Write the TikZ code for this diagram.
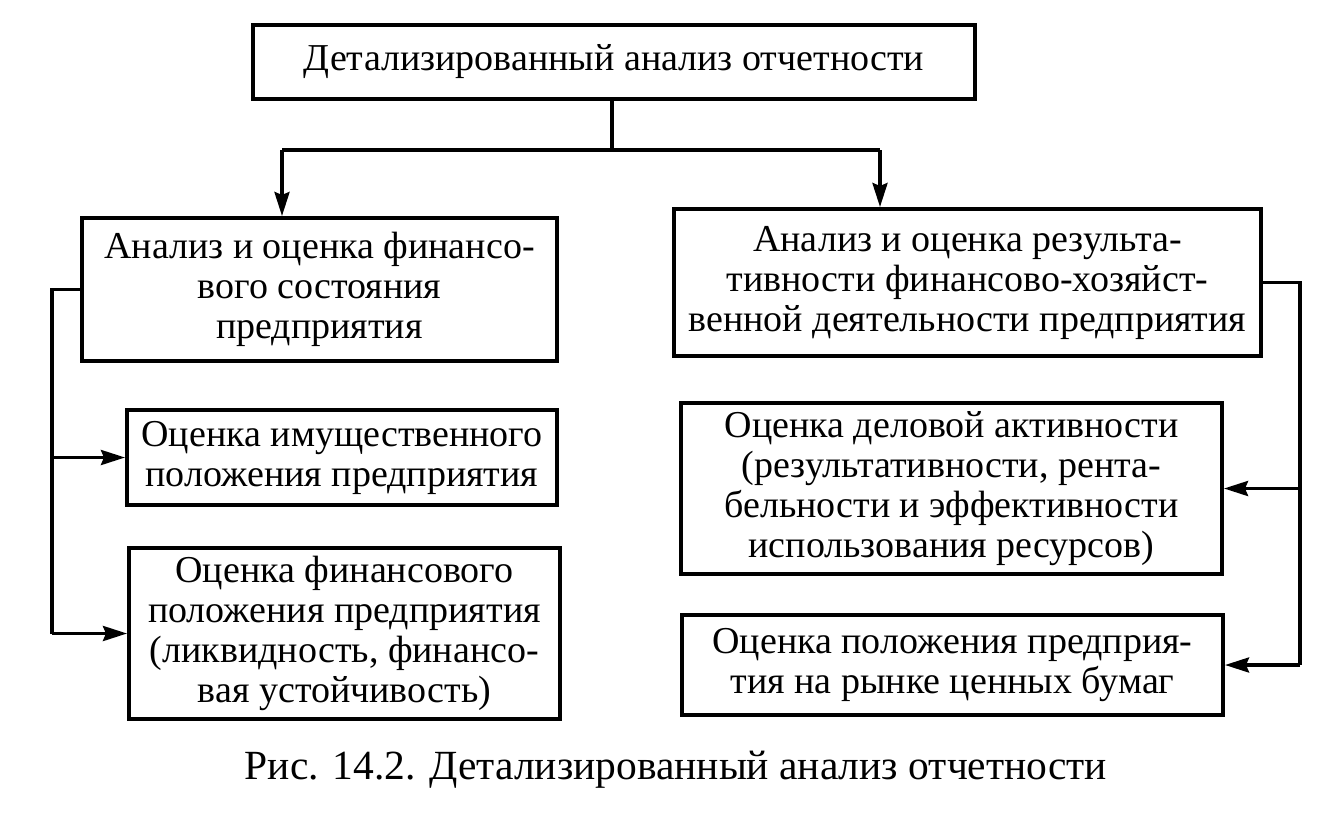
\documentclass[tikz,border=0pt]{standalone}
\usepackage{fontspec}
\setmainfont{Liberation Serif}
\usetikzlibrary{arrows.meta}
\begin{document}
\begin{tikzpicture}[x=1pt,y=-1pt,
  box/.style={draw, line width=4pt, align=center, inner sep=0pt,
    font=\fontsize{38}{40}\selectfont},
  conn/.style={line width=3.5pt},
  arr/.style={line width=3.5pt, -{Stealth[length=24pt,width=15pt,inset=3pt]}}]
\fill[white] (0,0) rectangle (1332,822);
\useasboundingbox (0,0) rectangle (1332,822);
\node[box, minimum width=722pt, minimum height=74pt] (top) at (614,62) {Детализированный анализ отчетности};
\node[box, minimum width=475pt, minimum height=143pt] (L1) at (319.5,289.5) {Анализ и оценка финансо-\\вого состояния\\предприятия};
\node[box, minimum width=587pt, minimum height=147pt] (R1) at (967.5,282.5) {Анализ и оценка результа-\\тивности финансово-хозяйст-\\венной деятельности предприятия};
\node[box, minimum width=430pt, minimum height=95pt] (L2) at (342,457.5) {Оценка имущественного\\положения предприятия};
\node[box, minimum width=431pt, minimum height=171pt] (L3) at (344.5,633.5) {Оценка финансового\\положения предприятия\\(ликвидность, финансо-\\вая устойчивость)};
\node[box, minimum width=541pt, minimum height=171pt] (R2) at (951.5,488.5) {Оценка деловой активности\\(результативности, рента-\\бельности и эффективности\\использования ресурсов)};
\node[box, minimum width=541pt, minimum height=100pt] (R3) at (952.5,665) {Оценка положения предприя-\\тия на рынке ценных бумаг};
\node[font=\fontsize{41.5}{44}\selectfont, inner sep=0pt] (cap) at (676,770) {Рис. 14.2. Детализированный анализ отчетности};
\coordinate (jt) at (612,150);
\coordinate (la) at (282,150);
\coordinate (ra) at (880,150);
\coordinate (lb) at (52,289.5);
\coordinate (rb) at (1300,282.5);
\draw[conn] (jt |- top.south) -- (jt);
\draw[conn] (la) -- (ra);
\draw[arr] (la) -- (la |- L1.north);
\draw[arr] (ra) -- (ra |- R1.north);
\draw[conn] (L1.west) -- (lb) -- (lb |- L3.west);
\draw[arr] (lb |- L2.west) -- (L2.west);
\draw[arr] (lb |- L3.west) -- (L3.west);
\draw[conn] (R1.east) -- (rb) -- (rb |- R3.east);
\draw[arr] (rb |- R2.east) -- (R2.east);
\draw[arr] (rb |- R3.east) -- (R3.east);
\end{tikzpicture}
\end{document}
